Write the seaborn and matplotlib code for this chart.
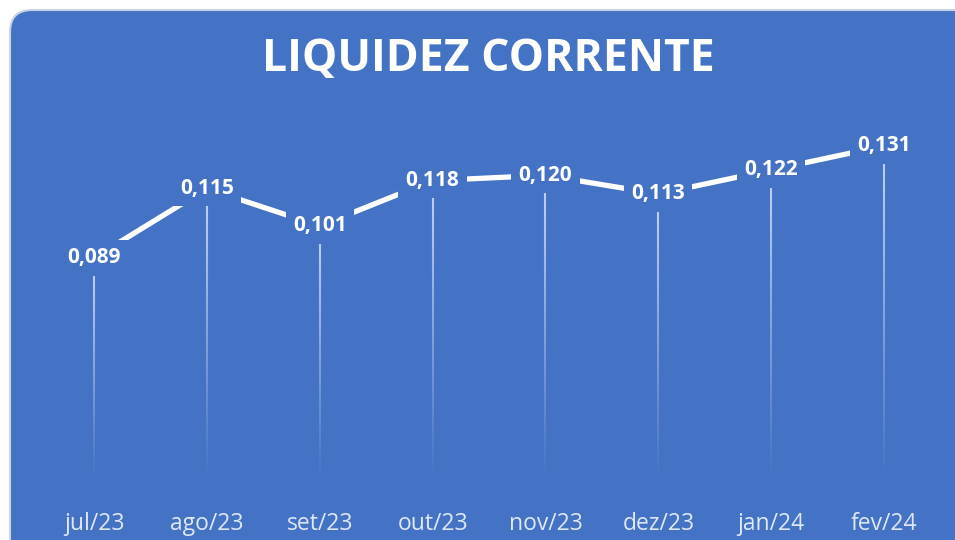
import numpy as np
import pandas as pd
import matplotlib
matplotlib.use("Agg")
import matplotlib.pyplot as plt
import seaborn as sns
from matplotlib.patches import FancyBboxPatch
from matplotlib.collections import LineCollection

months = ["jul/23", "ago/23", "set/23", "out/23", "nov/23", "dez/23", "jan/24", "fev/24"]
values = [0.089, 0.115, 0.101, 0.118, 0.120, 0.113, 0.122, 0.131]
title = "LIQUIDEZ CORRENTE"

BLUE = "#4472C4"
sns.set_theme(style="white")
plt.rcParams['font.family'] = ['Open Sans', 'DejaVu Sans']

W, H = 955, 540
fig = plt.figure(figsize=(W / 100, H / 100), dpi=100)
fig.patch.set_facecolor("white")

# background axes in pixel coordinates for the rounded card
bg = fig.add_axes([0, 0, 1, 1], zorder=-5)
bg.set_xlim(0, W)
bg.set_ylim(H, 0)
bg.axis("off")
card = FancyBboxPatch((10, 10), W + 40, H + 40,
                      boxstyle="round,pad=0,rounding_size=22",
                      facecolor=BLUE, edgecolor="#c9d3e3", linewidth=1.5)
bg.add_patch(card)

ax = fig.add_axes([37.5 / W, 45 / H, 903 / W, 373 / H], zorder=1)
ax.set_facecolor("none")

df = pd.DataFrame({"month": months, "value": values})
df["x"] = np.arange(len(months))

# gradient drop lines
for xi, v in zip(df["x"], df["value"]):
    n = 80
    ys = np.linspace(0.005, v, n + 1)
    segs = [[(xi, ys[i]), (xi, ys[i + 1])] for i in range(n)]
    alphas = np.linspace(0.0, 0.85, n)
    cols = [(0.85, 0.9, 1.0, a) for a in alphas]
    lc = LineCollection(segs, colors=cols, linewidths=1.5, zorder=2)
    ax.add_collection(lc)

sns.lineplot(data=df, x="x", y="value", ax=ax, color="white", linewidth=3.8,
             zorder=3, legend=False)

for xi, v in zip(df["x"], df["value"]):
    ax.text(xi, v, f"{v:.3f}".replace(".", ","), ha="center", va="center",
            color="white", fontsize=15, fontweight="bold", zorder=5,
            bbox=dict(boxstyle="square,pad=0.35", facecolor=BLUE, edgecolor="none"))

ax.set_xlim(-0.5, len(months) - 0.5)
ax.set_ylim(0, 0.14)
ax.set_xticks(df["x"])
ax.set_xticklabels(months, color="#dfe7f5", fontsize=16.5)
ax.tick_params(axis="x", length=0, pad=12)
ax.set_yticks([])
ax.set_xlabel("")
ax.set_ylabel("")
for s in ax.spines.values():
    s.set_visible(False)

fig.text(488 / W, 1 - 60 / H, title, ha="center", va="center", color="white",
         fontsize=32, fontweight="bold")

fig.savefig("out.png", dpi=100, facecolor=fig.get_facecolor())
